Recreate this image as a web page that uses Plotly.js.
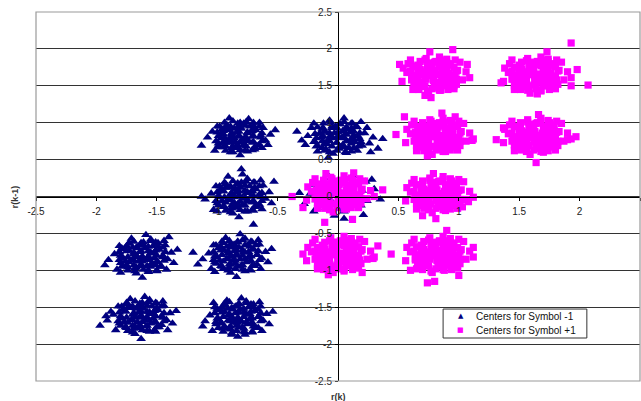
<!DOCTYPE html>
<html>
<head>
<meta charset="utf-8">
<script src="https://cdn.plot.ly/plotly-3.0.1.min.js"></script>
<style>html,body{margin:0;padding:0;background:#fff;}#chart{width:641px;height:401px;}</style>
</head>
<body>
<div id="chart"></div>
<script>
const seriesNames = ['Centers for Symbol -1', 'Centers for Symbol +1'];
const xAxisTitle = 'r(k)';
const yAxisTitle = 'r(k-1)';
const tickValues = [-2.5, -2, -1.5, -1, -0.5, 0, 0.5, 1, 1.5, 2, 2.5];
const tickLabels = ['-2.5', '-2', '-1.5', '-1', '-0.5', '0', '0.5', '1', '1.5', '2', '2.5'];

// [r(k), r(k-1)] points, symbol -1
const symbolMinus1Points = [
// cluster near (-0.8, 0.8)
[-0.82,0.81],[-0.75,0.86],[-0.9,0.78],[-0.86,0.92],[-0.7,0.74],[-0.95,0.85],[-0.78,0.7],[-0.64,0.83],[-0.99,0.72],[-0.88,0.66],[-0.73,0.95],[-0.81,1.0],[-0.68,0.9],[-1.04,0.88],[-0.6,0.76],[-0.92,0.97],[-0.77,0.62],[-0.85,0.74],[-0.71,0.81],[-0.97,0.79],[-0.84,0.87],[-0.79,0.77],[-0.66,0.69],[-0.9,0.9],[-1.08,0.8],[-0.56,0.84],[-0.74,1.05],[-0.87,0.6],[-1.0,0.95],[-0.62,0.93],[-0.93,0.68],[-0.8,0.92],[-0.69,0.64],[-0.76,0.8],[-0.88,0.84],[-0.83,0.7],[-0.72,0.88],[-0.95,0.74],[-1.13,0.69],[-0.58,0.7],[-0.81,0.56],[-0.9,1.06],[-0.65,1.0],[-1.02,0.62],[-0.78,0.99],[-0.86,0.79],[-0.74,0.75],[-0.96,0.91],[-0.7,0.96],[-0.83,0.94],[-0.52,0.9],[-0.99,0.67],[-0.63,0.66],[-0.89,0.73],[-0.76,0.68],
[-0.93,0.62],[-0.89,0.60],[-0.81,0.63],[-0.75,0.61],[-0.71,0.63],[-0.99,0.69],[-0.95,0.67],[-0.87,0.68],[-0.83,0.66],[-0.77,0.69],[-0.69,0.67],[-0.65,0.70],[-1.01,0.75],[-0.93,0.73],[-0.89,0.76],[-0.81,0.74],[-0.75,0.76],[-0.71,0.73],[-0.63,0.75],[-0.99,0.82],[-0.94,0.80],[-0.87,0.81],[-0.82,0.83],[-0.77,0.80],[-0.70,0.82],[-0.64,0.80],[-1.0,0.87],[-0.95,0.89],[-0.88,0.86],[-0.82,0.88],[-0.75,0.87],[-0.71,0.89],[-0.63,0.86],[-0.98,0.95],[-0.93,0.93],[-0.89,0.95],[-0.81,0.94],[-0.77,0.96],[-0.69,0.93],[-0.65,0.95],[-0.94,1.0],[-0.87,1.02],[-0.83,0.99],[-0.76,1.01],[-0.70,1.0],
// cluster near (0, 0.8)
[0.0,0.8],[0.07,0.84],[-0.08,0.77],[0.12,0.9],[-0.15,0.86],[0.04,0.7],[-0.05,0.93],[0.18,0.78],[-0.2,0.74],[0.09,0.66],[-0.1,0.64],[0.02,0.98],[0.15,0.95],[-0.25,0.82],[0.22,0.86],[-0.03,0.86],[0.1,0.76],[-0.12,0.92],[0.06,0.6],[-0.18,0.68],[0.26,0.72],[-0.07,1.03],[0.13,0.83],[-0.01,0.73],[0.08,0.91],[-0.14,0.8],[0.2,0.69],[-0.22,0.93],[0.03,0.79],[-0.09,0.71],[0.16,0.62],[0.29,0.8],[-0.3,0.76],[0.05,1.06],[-0.04,0.58],[0.11,0.99],[-0.17,0.61],[0.24,0.93],[-0.06,0.83],[0.14,0.74],[-0.11,0.88],[0.01,0.67],[-0.27,0.7],[0.33,0.65],[0.19,1.01],[-0.2,0.99],[0.07,0.75],[-0.02,0.95],[0.1,0.87],[-0.13,0.75],[0.04,0.89],[-0.34,0.88],[0.27,0.6],[0.37,0.78],[-0.08,0.53],
[0.11,0.61],[0.07,0.59],[-0.01,0.62],[-0.07,0.6],[-0.11,0.62],[0.17,0.68],[0.13,0.66],[0.05,0.67],[0.01,0.65],[-0.05,0.68],[-0.13,0.66],[-0.17,0.69],[0.19,0.74],[0.11,0.72],[0.07,0.75],[-0.01,0.73],[-0.07,0.75],[-0.11,0.72],[-0.19,0.74],[0.17,0.81],[0.12,0.79],[0.05,0.8],[0,0.82],[-0.05,0.79],[-0.12,0.81],[-0.18,0.79],[0.18,0.86],[0.13,0.88],[0.06,0.85],[0,0.87],[-0.07,0.86],[-0.11,0.88],[-0.19,0.85],[0.16,0.94],[0.11,0.92],[0.07,0.94],[-0.01,0.93],[-0.05,0.95],[-0.13,0.92],[-0.17,0.94],[0.12,0.99],[0.05,1.01],[0.01,0.98],[-0.06,1.0],[-0.12,0.99],
// cluster near (-0.8, 0)
[-0.82,0.0],[-0.76,0.05],[-0.9,-0.04],[-0.85,0.1],[-0.7,-0.06],[-0.95,0.07],[-0.79,-0.12],[-0.65,0.03],[-1.0,-0.09],[-0.88,-0.16],[-0.73,0.14],[-0.8,0.19],[-0.68,0.1],[-1.05,0.04],[-0.6,-0.03],[-0.93,0.17],[-0.77,-0.2],[-0.86,-0.08],[-0.72,0.0],[-0.98,-0.01],[-0.84,0.06],[-0.79,-0.03],[-0.67,-0.13],[-0.9,0.12],[-1.1,-0.04],[-0.57,0.06],[-0.75,0.24],[-0.87,-0.23],[-1.01,0.14],[-0.62,0.15],[-0.94,-0.14],[-0.81,0.12],[-0.7,-0.19],[-0.77,0.08],[-0.89,0.03],[-0.83,-0.1],[-0.71,0.07],[-0.96,-0.06],[-1.13,0.0],[-0.55,-0.09],[-0.82,-0.28],[-0.91,0.27],[-0.64,0.22],[-1.03,-0.18],[-0.79,0.3],[-0.86,-0.01],[-0.74,-0.07],[-0.97,0.1],[-0.69,0.19],[-0.84,0.16],[-0.53,0.2],[-1.0,-0.2],[-0.63,-0.17],[-0.88,-0.12],[-0.8,0.37],[-0.7,-0.38],
[-0.93,-0.19],[-0.89,-0.21],[-0.81,-0.18],[-0.75,-0.2],[-0.71,-0.18],[-0.99,-0.12],[-0.95,-0.14],[-0.87,-0.13],[-0.83,-0.15],[-0.77,-0.12],[-0.69,-0.14],[-0.65,-0.11],[-1.01,-0.06],[-0.93,-0.08],[-0.89,-0.05],[-0.81,-0.07],[-0.75,-0.05],[-0.71,-0.08],[-0.63,-0.06],[-0.99,0.01],[-0.94,-0.01],[-0.87,0],[-0.82,0.02],[-0.77,-0.01],[-0.7,0.01],[-0.64,-0.01],[-1.0,0.06],[-0.95,0.08],[-0.88,0.05],[-0.82,0.07],[-0.75,0.06],[-0.71,0.08],[-0.63,0.05],[-0.98,0.14],[-0.93,0.12],[-0.89,0.14],[-0.81,0.13],[-0.77,0.15],[-0.69,0.12],[-0.65,0.14],[-0.94,0.19],[-0.87,0.21],[-0.83,0.18],[-0.76,0.2],[-0.7,0.19],
// cluster near (0, 0), mostly hidden behind the +1 cluster
[0.0,0.02],[0.06,0.06],[-0.07,-0.03],[0.1,0.1],[-0.13,0.07],[0.04,-0.08],[-0.04,0.15],[0.16,0.0],[-0.18,-0.05],[0.08,-0.14],[-0.1,-0.15],[0.02,0.2],[0.14,0.17],[-0.23,0.04],[0.2,0.08],[-0.02,0.08],[0.11,-0.04],[-0.12,0.13],[0.05,-0.2],[-0.16,-0.12],[0.24,-0.06],[-0.06,0.25],[0.13,0.04],[0.0,-0.06],[0.08,0.13],[-0.15,0.0],[0.19,-0.12],[-0.21,0.16],[0.3,0.1],[-0.28,-0.1],[0.23,0.2],[0.35,-0.04],[-0.09,0.3],[0.21,-0.25],[-0.32,0.05],[0.12,0.28],[-0.2,-0.2],[0.28,0.23],[0.05,-0.3],[-0.03,-0.26],
// cluster near (-1.6, -0.8)
[-1.62,-0.81],[-1.55,-0.77],[-1.7,-0.85],[-1.66,-0.7],[-1.5,-0.88],[-1.75,-0.74],[-1.58,-0.94],[-1.45,-0.8],[-1.8,-0.9],[-1.68,-0.97],[-1.53,-0.67],[-1.61,-0.62],[-1.48,-0.72],[-1.85,-0.78],[-1.41,-0.85],[-1.73,-0.64],[-1.57,-1.0],[-1.65,-0.88],[-1.52,-0.83],[-1.78,-0.83],[-1.64,-0.75],[-1.59,-0.86],[-1.47,-0.95],[-1.7,-0.69],[-1.9,-0.86],[-1.38,-0.76],[-1.55,-0.58],[-1.67,-1.04],[-1.81,-0.67],[-1.43,-0.66],[-1.74,-0.96],[-1.6,-0.7],[-1.5,-1.01],[-1.57,-0.74],[-1.69,-0.78],[-1.63,-0.92],[-1.52,-0.76],[-1.76,-0.88],[-1.93,-0.93],[-1.36,-0.9],[-1.62,-1.1],[-1.71,-0.57],[-1.44,-0.6],[-1.83,-0.99],[-1.59,-0.52],[-1.66,-0.82],[-1.54,-0.9],[-1.77,-0.71],[-1.49,-0.63],[-1.64,-0.66],[-1.33,-0.72],[-1.8,-1.03],[-1.42,-0.99],[-1.69,-0.93],[-1.4,-0.55],
[-1.51,-0.62],[-1.55,-0.6],[-1.63,-0.63],[-1.69,-0.61],[-1.73,-0.63],[-1.45,-0.69],[-1.49,-0.67],[-1.57,-0.68],[-1.61,-0.66],[-1.67,-0.69],[-1.75,-0.67],[-1.79,-0.7],[-1.43,-0.75],[-1.51,-0.73],[-1.55,-0.76],[-1.63,-0.74],[-1.69,-0.76],[-1.73,-0.73],[-1.81,-0.75],[-1.45,-0.82],[-1.5,-0.8],[-1.57,-0.81],[-1.62,-0.83],[-1.67,-0.8],[-1.74,-0.82],[-1.8,-0.8],[-1.44,-0.87],[-1.49,-0.89],[-1.56,-0.86],[-1.62,-0.88],[-1.69,-0.87],[-1.73,-0.89],[-1.81,-0.86],[-1.46,-0.95],[-1.51,-0.93],[-1.55,-0.95],[-1.63,-0.94],[-1.67,-0.96],[-1.75,-0.93],[-1.79,-0.95],[-1.5,-1.0],[-1.57,-1.02],[-1.61,-0.99],[-1.68,-1.01],[-1.74,-1.0],
// cluster near (-1.6, -1.6)
[-1.63,-1.63],[-1.56,-1.59],[-1.71,-1.67],[-1.67,-1.52],[-1.51,-1.7],[-1.76,-1.56],[-1.59,-1.76],[-1.46,-1.62],[-1.81,-1.72],[-1.69,-1.79],[-1.54,-1.49],[-1.62,-1.44],[-1.49,-1.54],[-1.86,-1.6],[-1.42,-1.67],[-1.74,-1.46],[-1.58,-1.82],[-1.66,-1.7],[-1.53,-1.65],[-1.79,-1.65],[-1.65,-1.57],[-1.6,-1.68],[-1.48,-1.77],[-1.71,-1.51],[-1.91,-1.68],[-1.39,-1.58],[-1.56,-1.4],[-1.68,-1.86],[-1.82,-1.49],[-1.44,-1.48],[-1.75,-1.78],[-1.61,-1.52],[-1.51,-1.83],[-1.58,-1.56],[-1.7,-1.6],[-1.64,-1.74],[-1.53,-1.58],[-1.77,-1.7],[-1.97,-1.75],[-1.37,-1.72],[-1.63,-1.93],[-1.72,-1.39],[-1.45,-1.42],[-1.84,-1.81],[-1.6,-1.36],[-1.67,-1.64],[-1.55,-1.72],[-1.78,-1.53],[-1.5,-1.45],[-1.65,-1.48],[-1.34,-1.55],[-1.88,-1.56],[-1.41,-1.81],[-1.7,-1.75],[-1.92,-1.62],
[-1.74,-1.82],[-1.7,-1.84],[-1.62,-1.81],[-1.56,-1.83],[-1.52,-1.81],[-1.8,-1.75],[-1.76,-1.77],[-1.68,-1.76],[-1.64,-1.78],[-1.58,-1.75],[-1.5,-1.77],[-1.46,-1.74],[-1.82,-1.69],[-1.74,-1.71],[-1.7,-1.68],[-1.62,-1.7],[-1.56,-1.68],[-1.52,-1.71],[-1.44,-1.69],[-1.8,-1.62],[-1.75,-1.64],[-1.68,-1.63],[-1.63,-1.61],[-1.58,-1.64],[-1.51,-1.62],[-1.45,-1.64],[-1.81,-1.57],[-1.76,-1.55],[-1.69,-1.58],[-1.63,-1.56],[-1.56,-1.57],[-1.52,-1.55],[-1.44,-1.58],[-1.79,-1.49],[-1.74,-1.51],[-1.7,-1.49],[-1.62,-1.5],[-1.58,-1.48],[-1.5,-1.51],[-1.46,-1.49],[-1.75,-1.44],[-1.68,-1.42],[-1.64,-1.45],[-1.57,-1.43],[-1.51,-1.44],
// cluster near (-0.8, -0.8)
[-0.84,-0.8],[-0.77,-0.76],[-0.92,-0.84],[-0.88,-0.69],[-0.72,-0.87],[-0.97,-0.73],[-0.8,-0.93],[-0.67,-0.79],[-1.02,-0.89],[-0.9,-0.96],[-0.75,-0.66],[-0.83,-0.61],[-0.7,-0.71],[-1.07,-0.77],[-0.63,-0.84],[-0.95,-0.63],[-0.79,-0.99],[-0.87,-0.87],[-0.74,-0.82],[-1.0,-0.82],[-0.86,-0.74],[-0.81,-0.85],[-0.69,-0.94],[-0.92,-0.68],[-1.12,-0.85],[-0.6,-0.75],[-0.77,-0.57],[-0.89,-1.03],[-1.03,-0.66],[-0.65,-0.65],[-0.96,-0.95],[-0.82,-0.69],[-0.72,-1.0],[-0.79,-0.73],[-0.91,-0.77],[-0.85,-0.91],[-0.74,-0.75],[-0.98,-0.87],[-1.16,-0.92],[-0.58,-0.89],[-0.84,-1.09],[-0.93,-0.56],[-0.66,-0.59],[-1.05,-0.98],[-0.81,-0.51],[-0.88,-0.81],[-0.76,-0.89],[-0.99,-0.7],[-0.71,-0.62],[-0.86,-0.65],[-0.55,-0.71],[-1.02,-1.02],[-0.64,-0.98],[-0.9,-0.92],[-1.2,-0.76],
[-0.73,-0.99],[-0.77,-1.01],[-0.85,-0.98],[-0.91,-1.0],[-0.95,-0.98],[-0.67,-0.92],[-0.71,-0.94],[-0.79,-0.93],[-0.83,-0.95],[-0.89,-0.92],[-0.97,-0.94],[-1.01,-0.91],[-0.65,-0.86],[-0.73,-0.88],[-0.77,-0.85],[-0.85,-0.87],[-0.91,-0.85],[-0.95,-0.88],[-1.03,-0.86],[-0.67,-0.79],[-0.72,-0.81],[-0.79,-0.8],[-0.84,-0.78],[-0.89,-0.81],[-0.96,-0.79],[-1.02,-0.81],[-0.66,-0.74],[-0.71,-0.72],[-0.78,-0.75],[-0.84,-0.73],[-0.91,-0.74],[-0.95,-0.72],[-1.03,-0.75],[-0.68,-0.66],[-0.73,-0.68],[-0.77,-0.66],[-0.85,-0.67],[-0.89,-0.65],[-0.97,-0.68],[-1.01,-0.66],[-0.72,-0.61],[-0.79,-0.59],[-0.83,-0.62],[-0.9,-0.6],[-0.96,-0.61],
// cluster near (-0.8, -1.6)
[-0.83,-1.64],[-0.76,-1.6],[-0.91,-1.68],[-0.87,-1.53],[-0.71,-1.71],[-0.96,-1.57],[-0.79,-1.77],[-0.66,-1.63],[-1.01,-1.73],[-0.89,-1.8],[-0.74,-1.5],[-0.82,-1.45],[-0.69,-1.55],[-1.06,-1.61],[-0.62,-1.68],[-0.94,-1.47],[-0.78,-1.83],[-0.86,-1.71],[-0.73,-1.66],[-0.99,-1.66],[-0.85,-1.58],[-0.8,-1.69],[-0.68,-1.78],[-0.91,-1.52],[-1.1,-1.69],[-0.59,-1.59],[-0.76,-1.42],[-0.88,-1.87],[-1.02,-1.5],[-0.64,-1.49],[-0.95,-1.79],[-0.81,-1.53],[-0.71,-1.84],[-0.78,-1.57],[-0.9,-1.61],[-0.84,-1.75],[-0.73,-1.59],[-0.97,-1.71],[-1.12,-1.76],[-0.57,-1.73],[-0.83,-1.9],[-0.92,-1.41],[-0.65,-1.43],[-1.04,-1.82],[-0.8,-1.38],[-0.87,-1.65],[-0.75,-1.73],[-0.98,-1.54],[-0.7,-1.46],[-0.85,-1.49],[-0.54,-1.56],[-1.03,-1.44],[-0.63,-1.82],[-0.89,-1.76],[-0.77,-1.87],
[-0.94,-1.45],[-0.9,-1.43],[-0.82,-1.46],[-0.76,-1.44],[-0.72,-1.46],[-1.0,-1.52],[-0.96,-1.5],[-0.88,-1.51],[-0.84,-1.49],[-0.78,-1.52],[-0.7,-1.5],[-0.66,-1.53],[-1.02,-1.58],[-0.94,-1.56],[-0.9,-1.59],[-0.82,-1.57],[-0.76,-1.59],[-0.72,-1.56],[-0.64,-1.58],[-1.0,-1.65],[-0.95,-1.63],[-0.88,-1.64],[-0.83,-1.66],[-0.78,-1.63],[-0.71,-1.65],[-0.65,-1.63],[-1.01,-1.7],[-0.96,-1.72],[-0.89,-1.69],[-0.83,-1.71],[-0.76,-1.7],[-0.72,-1.72],[-0.64,-1.69],[-0.99,-1.78],[-0.94,-1.76],[-0.9,-1.78],[-0.82,-1.77],[-0.78,-1.79],[-0.7,-1.76],[-0.66,-1.78],[-0.95,-1.83],[-0.88,-1.85],[-0.84,-1.82],[-0.77,-1.84],[-0.71,-1.83]
];

// [r(k), r(k-1)] points, symbol +1
const symbolPlus1Points = [
// cluster near (0, 0)
[0.0,0.03],[0.07,0.07],[-0.07,0.0],[0.11,0.12],[-0.13,0.09],[0.04,-0.06],[-0.04,0.17],[0.16,0.02],[-0.18,-0.02],[0.08,-0.11],[-0.1,-0.12],[0.02,0.22],[0.14,0.19],[-0.22,0.07],[0.2,0.1],[-0.02,0.1],[0.11,-0.02],[-0.12,0.15],[0.05,-0.17],[-0.16,-0.09],[0.24,-0.03],[-0.06,0.26],[0.13,0.06],[0.0,-0.04],[0.08,0.15],[-0.15,0.03],[0.19,-0.09],[-0.21,0.19],[0.03,0.05],[-0.09,-0.06],[0.17,-0.15],[0.27,0.08],[-0.26,-0.05],[0.05,0.28],[-0.04,-0.21],[0.11,0.25],[-0.17,-0.16],[0.22,0.21],[-0.06,0.06],[0.14,-0.05],[-0.11,0.1],[0.01,-0.13],[-0.25,0.13],[0.3,0.0],[0.18,0.24],[-0.19,0.24],[0.07,0.0],[-0.02,0.2],[0.1,0.11],[-0.13,-0.04],[-0.38,0.0],[0.37,0.09],[-0.1,0.31],[0.13,0.32],[0.12,-0.31],[-0.11,-0.35],[-0.29,-0.15],
[-0.11,-0.16],[-0.07,-0.18],[0.01,-0.15],[0.07,-0.17],[0.11,-0.15],[-0.17,-0.09],[-0.13,-0.11],[-0.05,-0.1],[-0.01,-0.12],[0.05,-0.09],[0.13,-0.11],[0.17,-0.08],[-0.19,-0.03],[-0.11,-0.05],[-0.07,-0.02],[0.01,-0.04],[0.07,-0.02],[0.11,-0.05],[0.19,-0.03],[-0.17,0.04],[-0.12,0.02],[-0.05,0.03],[0,0.05],[0.05,0.02],[0.12,0.04],[0.18,0.02],[-0.18,0.09],[-0.13,0.11],[-0.06,0.08],[0,0.1],[0.07,0.09],[0.11,0.11],[0.19,0.08],[-0.16,0.17],[-0.11,0.15],[-0.07,0.17],[0.01,0.16],[0.05,0.18],[0.13,0.15],[0.17,0.17],[-0.12,0.22],[-0.05,0.24],[-0.01,0.21],[0.06,0.23],[0.12,0.22],
// cluster near (0, -0.8)
[0.0,-0.8],[0.07,-0.76],[-0.07,-0.84],[0.11,-0.69],[-0.13,-0.73],[0.04,-0.88],[-0.04,-0.65],[0.16,-0.8],[-0.18,-0.84],[0.08,-0.93],[-0.1,-0.94],[0.02,-0.6],[0.14,-0.63],[-0.22,-0.75],[0.2,-0.72],[-0.02,-0.72],[0.11,-0.84],[-0.12,-0.67],[0.05,-0.99],[-0.16,-0.91],[0.24,-0.85],[-0.06,-0.56],[0.13,-0.76],[0.0,-0.86],[0.08,-0.67],[-0.15,-0.79],[0.19,-0.91],[-0.21,-0.63],[0.03,-0.77],[-0.09,-0.88],[0.17,-0.97],[0.27,-0.74],[-0.26,-0.87],[0.05,-0.54],[-0.04,-1.03],[0.11,-0.57],[-0.17,-0.98],[0.22,-0.61],[-0.06,-0.76],[0.14,-0.87],[-0.11,-0.72],[0.01,-0.95],[-0.25,-0.69],[0.3,-0.82],[0.18,-0.58],[-0.19,-0.58],[0.07,-0.82],[-0.02,-0.62],[0.1,-0.71],[-0.13,-0.86],[0.44,-0.78],[0.29,-0.84],[-0.29,-0.78],[0.2,-1.03],[-0.08,-1.06],[0.33,-0.67],
[0.11,-0.61],[0.07,-0.59],[-0.01,-0.62],[-0.07,-0.6],[-0.11,-0.62],[0.17,-0.68],[0.13,-0.66],[0.05,-0.67],[0.01,-0.65],[-0.05,-0.68],[-0.13,-0.66],[-0.17,-0.69],[0.19,-0.74],[0.11,-0.72],[0.07,-0.75],[-0.01,-0.73],[-0.07,-0.75],[-0.11,-0.72],[-0.19,-0.74],[0.17,-0.81],[0.12,-0.79],[0.05,-0.8],[0,-0.82],[-0.05,-0.79],[-0.12,-0.81],[-0.18,-0.79],[0.18,-0.86],[0.13,-0.88],[0.06,-0.85],[0,-0.87],[-0.07,-0.86],[-0.11,-0.88],[-0.19,-0.85],[0.16,-0.94],[0.11,-0.92],[0.07,-0.94],[-0.01,-0.93],[-0.05,-0.95],[-0.13,-0.92],[-0.17,-0.94],[0.12,-0.99],[0.05,-1.01],[0.01,-0.98],[-0.06,-1.0],[-0.12,-0.99],
// cluster near (0.8, 0)
[0.82,0.02],[0.89,0.06],[0.75,-0.01],[0.93,0.11],[0.69,0.08],[0.86,-0.07],[0.78,0.16],[0.98,0.01],[0.64,-0.03],[0.9,-0.12],[0.72,-0.13],[0.84,0.21],[0.96,0.18],[0.6,0.06],[1.02,0.09],[0.8,0.09],[0.93,-0.03],[0.7,0.14],[0.87,-0.18],[0.66,-0.1],[1.06,-0.04],[0.76,0.25],[0.95,0.05],[0.82,-0.05],[0.9,0.14],[0.67,0.02],[1.01,-0.1],[0.61,0.18],[0.85,0.04],[0.73,-0.07],[0.99,-0.16],[1.09,0.07],[0.56,-0.06],[0.87,0.27],[0.78,-0.22],[0.93,0.24],[0.65,-0.17],[1.04,0.2],[0.76,0.05],[0.96,-0.06],[0.71,0.09],[0.83,-0.14],[0.57,0.12],[1.12,-0.01],[1.0,0.23],[0.63,0.23],[0.89,-0.01],[0.8,0.19],[0.92,0.1],[0.69,-0.05],[1.08,-0.07],[1.03,-0.14],[0.81,-0.3],[0.7,-0.26],[0.79,0.31],
[0.93,-0.17],[0.89,-0.19],[0.81,-0.16],[0.75,-0.18],[0.71,-0.16],[0.99,-0.1],[0.95,-0.12],[0.87,-0.11],[0.83,-0.13],[0.77,-0.1],[0.69,-0.12],[0.65,-0.09],[1.01,-0.04],[0.93,-0.06],[0.89,-0.03],[0.81,-0.05],[0.75,-0.03],[0.71,-0.06],[0.63,-0.04],[0.99,0.03],[0.94,0.01],[0.87,0.02],[0.82,0.04],[0.77,0.01],[0.7,0.03],[0.64,0.01],[1.0,0.08],[0.95,0.1],[0.88,0.07],[0.82,0.09],[0.75,0.08],[0.71,0.1],[0.63,0.07],[0.98,0.16],[0.93,0.14],[0.89,0.16],[0.81,0.15],[0.77,0.17],[0.69,0.14],[0.65,0.16],[0.94,0.21],[0.87,0.23],[0.83,0.2],[0.76,0.22],[0.7,0.21],
// cluster near (0.8, -0.8)
[0.82,-0.8],[0.89,-0.76],[0.75,-0.84],[0.93,-0.69],[0.69,-0.73],[0.86,-0.88],[0.78,-0.65],[0.98,-0.8],[0.64,-0.84],[0.9,-0.93],[0.72,-0.94],[0.84,-0.6],[0.96,-0.63],[0.6,-0.75],[1.02,-0.72],[0.8,-0.72],[0.93,-0.84],[0.7,-0.67],[0.87,-0.99],[0.66,-0.91],[1.06,-0.85],[0.76,-0.56],[0.95,-0.76],[0.82,-0.86],[0.9,-0.67],[0.67,-0.79],[1.01,-0.91],[0.61,-0.63],[0.85,-0.77],[0.73,-0.88],[0.99,-0.97],[1.09,-0.74],[0.56,-0.87],[0.87,-0.54],[0.78,-1.03],[0.93,-0.57],[0.65,-0.98],[1.04,-0.61],[0.76,-0.76],[0.96,-0.87],[0.71,-0.72],[0.83,-0.95],[0.57,-0.69],[1.12,-0.82],[1.0,-0.58],[0.63,-0.58],[0.89,-0.82],[0.8,-0.62],[0.92,-0.71],[0.69,-0.86],[0.74,-1.17],[0.8,-1.15],[1.0,-1.07],[1.12,-0.69],[0.9,-0.46],[0.6,-1.0],
[0.71,-0.61],[0.75,-0.59],[0.83,-0.62],[0.89,-0.6],[0.93,-0.62],[0.65,-0.68],[0.69,-0.66],[0.77,-0.67],[0.81,-0.65],[0.87,-0.68],[0.95,-0.66],[0.99,-0.69],[0.63,-0.74],[0.71,-0.72],[0.75,-0.75],[0.83,-0.73],[0.89,-0.75],[0.93,-0.72],[1.01,-0.74],[0.65,-0.81],[0.7,-0.79],[0.77,-0.8],[0.82,-0.82],[0.87,-0.79],[0.94,-0.81],[1.0,-0.79],[0.64,-0.86],[0.69,-0.88],[0.76,-0.85],[0.82,-0.87],[0.89,-0.86],[0.93,-0.88],[1.01,-0.85],[0.66,-0.94],[0.71,-0.92],[0.75,-0.94],[0.83,-0.93],[0.87,-0.95],[0.95,-0.92],[0.99,-0.94],[0.7,-0.99],[0.77,-1.01],[0.81,-0.98],[0.88,-1.0],[0.94,-0.99],
// cluster near (0.8, 0.8)
[0.82,0.81],[0.89,0.85],[0.75,0.78],[0.93,0.9],[0.69,0.87],[0.86,0.72],[0.78,0.95],[0.98,0.8],[0.64,0.76],[0.9,0.67],[0.72,0.66],[0.84,1.0],[0.96,0.97],[0.6,0.85],[1.02,0.88],[0.8,0.88],[0.93,0.76],[0.7,0.93],[0.87,0.61],[0.66,0.69],[1.06,0.75],[0.76,1.04],[0.95,0.84],[0.82,0.74],[0.9,0.93],[0.67,0.81],[1.01,0.69],[0.61,0.97],[0.85,0.83],[0.73,0.72],[0.99,0.63],[1.09,0.86],[0.56,0.73],[0.87,1.06],[0.78,0.57],[0.93,1.03],[0.65,0.62],[1.04,0.99],[0.76,0.84],[0.96,0.73],[0.71,0.88],[0.83,0.65],[0.57,0.91],[1.12,0.78],[1.0,1.02],[0.63,1.02],[0.89,0.78],[0.8,0.98],[0.92,0.89],[0.69,0.74],[0.55,1.08],[0.86,1.13],[0.97,1.08],[1.11,0.76],[0.48,0.84],[0.74,0.55],
[0.71,0.62],[0.75,0.6],[0.83,0.63],[0.89,0.61],[0.93,0.63],[0.65,0.69],[0.69,0.67],[0.77,0.68],[0.81,0.66],[0.87,0.69],[0.95,0.67],[0.99,0.7],[0.63,0.75],[0.71,0.73],[0.75,0.76],[0.83,0.74],[0.89,0.76],[0.93,0.73],[1.01,0.75],[0.65,0.82],[0.7,0.8],[0.77,0.81],[0.82,0.83],[0.87,0.8],[0.94,0.82],[1.0,0.8],[0.64,0.87],[0.69,0.89],[0.76,0.86],[0.82,0.88],[0.89,0.87],[0.93,0.89],[1.01,0.86],[0.66,0.95],[0.71,0.93],[0.75,0.95],[0.83,0.94],[0.87,0.96],[0.95,0.93],[0.99,0.95],[0.7,1.0],[0.77,1.02],[0.81,0.99],[0.88,1.01],[0.94,1.0],
// cluster near (1.6, 0.8)
[1.63,0.81],[1.7,0.85],[1.56,0.78],[1.74,0.9],[1.5,0.87],[1.67,0.72],[1.59,0.95],[1.79,0.8],[1.45,0.76],[1.71,0.67],[1.53,0.66],[1.65,1.0],[1.77,0.97],[1.41,0.85],[1.83,0.88],[1.61,0.88],[1.74,0.76],[1.51,0.93],[1.68,0.61],[1.47,0.69],[1.87,0.75],[1.57,1.04],[1.76,0.84],[1.63,0.74],[1.71,0.93],[1.48,0.81],[1.82,0.69],[1.42,0.97],[1.66,0.83],[1.54,0.72],[1.8,0.63],[1.9,0.86],[1.37,0.73],[1.68,1.06],[1.59,0.57],[1.74,1.03],[1.46,0.62],[1.85,0.99],[1.57,0.84],[1.77,0.73],[1.52,0.88],[1.64,0.65],[1.38,0.91],[1.93,0.78],[1.81,1.02],[1.44,1.02],[1.7,0.78],[1.61,0.98],[1.73,0.89],[1.5,0.74],[1.37,0.93],[1.97,0.81],[1.31,0.77],[1.64,0.46],[1.9,0.77],[1.66,1.11],
[1.74,0.62],[1.7,0.6],[1.62,0.63],[1.56,0.61],[1.52,0.63],[1.8,0.69],[1.76,0.67],[1.68,0.68],[1.64,0.66],[1.58,0.69],[1.5,0.67],[1.46,0.7],[1.82,0.75],[1.74,0.73],[1.7,0.76],[1.62,0.74],[1.56,0.76],[1.52,0.73],[1.44,0.75],[1.8,0.82],[1.75,0.8],[1.68,0.81],[1.63,0.83],[1.58,0.8],[1.51,0.82],[1.45,0.8],[1.81,0.87],[1.76,0.89],[1.69,0.86],[1.63,0.88],[1.56,0.87],[1.52,0.89],[1.44,0.86],[1.79,0.95],[1.74,0.93],[1.7,0.95],[1.62,0.94],[1.58,0.96],[1.5,0.93],[1.46,0.95],[1.75,1.0],[1.68,1.02],[1.64,0.99],[1.57,1.01],[1.51,1.0],
// cluster near (0.8, 1.6)
[0.79,1.64],[0.86,1.68],[0.72,1.61],[0.9,1.73],[0.66,1.7],[0.83,1.55],[0.75,1.78],[0.95,1.63],[0.61,1.59],[0.87,1.5],[0.69,1.49],[0.81,1.83],[0.93,1.8],[0.57,1.68],[0.99,1.71],[0.77,1.71],[0.9,1.59],[0.67,1.76],[0.84,1.44],[0.63,1.52],[1.03,1.58],[0.73,1.87],[0.92,1.67],[0.79,1.57],[0.87,1.76],[0.64,1.64],[0.98,1.52],[0.58,1.8],[0.82,1.66],[0.7,1.55],[0.96,1.46],[1.06,1.69],[0.53,1.56],[0.84,1.89],[0.75,1.4],[0.9,1.86],[0.62,1.45],[1.01,1.82],[0.73,1.67],[0.93,1.56],[0.68,1.71],[0.8,1.48],[0.54,1.74],[1.09,1.61],[0.97,1.85],[0.6,1.85],[0.86,1.61],[0.77,1.81],[0.89,1.72],[0.66,1.57],[0.51,1.79],[0.76,1.96],[0.95,1.99],[0.77,1.34],[1.07,1.79],[0.72,1.37],
[0.68,1.83],[0.72,1.85],[0.8,1.82],[0.86,1.84],[0.9,1.82],[0.62,1.76],[0.66,1.78],[0.74,1.77],[0.78,1.79],[0.84,1.76],[0.92,1.78],[0.96,1.75],[0.6,1.7],[0.68,1.72],[0.72,1.69],[0.8,1.71],[0.86,1.69],[0.9,1.72],[0.98,1.7],[0.62,1.63],[0.67,1.65],[0.74,1.64],[0.79,1.62],[0.84,1.65],[0.91,1.63],[0.97,1.65],[0.61,1.58],[0.66,1.56],[0.73,1.59],[0.79,1.57],[0.86,1.58],[0.9,1.56],[0.98,1.59],[0.63,1.5],[0.68,1.52],[0.72,1.5],[0.8,1.51],[0.84,1.49],[0.92,1.52],[0.96,1.5],[0.67,1.45],[0.74,1.43],[0.78,1.46],[0.85,1.44],[0.91,1.45],
// cluster near (1.6, 1.6)
[1.63,1.64],[1.7,1.68],[1.56,1.61],[1.74,1.73],[1.5,1.7],[1.67,1.55],[1.59,1.78],[1.79,1.63],[1.45,1.59],[1.71,1.5],[1.53,1.49],[1.65,1.83],[1.77,1.8],[1.41,1.68],[1.83,1.71],[1.61,1.71],[1.74,1.59],[1.51,1.76],[1.68,1.44],[1.47,1.52],[1.87,1.58],[1.57,1.87],[1.76,1.67],[1.63,1.57],[1.71,1.76],[1.48,1.64],[1.82,1.52],[1.42,1.8],[1.66,1.66],[1.54,1.55],[1.8,1.46],[1.9,1.69],[1.37,1.56],[1.68,1.89],[1.59,1.4],[1.74,1.86],[1.46,1.45],[1.85,1.82],[1.57,1.67],[1.77,1.56],[1.52,1.71],[1.64,1.48],[1.38,1.74],[1.93,1.61],[1.81,1.85],[1.44,1.85],[1.7,1.61],[1.61,1.81],[1.73,1.72],[1.5,1.57],[1.35,1.54],[1.98,1.72],[2.07,1.51],[1.93,1.5],[1.73,1.96],[1.65,1.39],[1.93,2.08],
[1.74,1.83],[1.7,1.85],[1.62,1.82],[1.56,1.84],[1.52,1.82],[1.8,1.76],[1.76,1.78],[1.68,1.77],[1.64,1.79],[1.58,1.76],[1.5,1.78],[1.46,1.75],[1.82,1.7],[1.74,1.72],[1.7,1.69],[1.62,1.71],[1.56,1.69],[1.52,1.72],[1.44,1.7],[1.8,1.63],[1.75,1.65],[1.68,1.64],[1.63,1.62],[1.58,1.65],[1.51,1.63],[1.45,1.65],[1.81,1.58],[1.76,1.56],[1.69,1.59],[1.63,1.57],[1.56,1.58],[1.52,1.56],[1.44,1.59],[1.79,1.5],[1.74,1.52],[1.7,1.5],[1.62,1.51],[1.58,1.49],[1.5,1.52],[1.46,1.5],[1.75,1.45],[1.68,1.43],[1.64,1.46],[1.57,1.44],[1.51,1.45]
];

const FONT = 'Liberation Sans, Arial, sans-serif';

const traces = [
  {
    type: 'scatter', mode: 'markers', name: seriesNames[0],
    x: symbolMinus1Points.map(p => p[0]), y: symbolMinus1Points.map(p => p[1]),
    marker: {symbol: 'triangle-up', size: 8.5, color: '#000080', line: {width: 0}},
    showlegend: false, hoverinfo: 'skip'
  },
  {
    type: 'scatter', mode: 'markers', name: seriesNames[1],
    x: symbolPlus1Points.map(p => p[0]), y: symbolPlus1Points.map(p => p[1]),
    marker: {symbol: 'square', size: 7.2, color: '#FF00FF', line: {width: 0}},
    showlegend: false, hoverinfo: 'skip'
  }
];

const tickFont = {family: FONT, size: 10, color: '#222'};

const layout = {
  width: 641, height: 401,
  margin: {l: 36, r: 1, t: 12, b: 20, pad: 0},
  paper_bgcolor: '#fff', plot_bgcolor: '#fff',
  showlegend: false,
  xaxis: {
    range: [-2.5, 2.5], anchor: 'free', position: 0.5, automargin: false,
    showline: true, linecolor: '#000', linewidth: 1,
    ticks: 'outside', ticklen: 3, tickwidth: 1, tickcolor: '#000',
    tickvals: tickValues, ticktext: tickLabels, tickfont: tickFont,
    ticklabelstandoff: 2,
    showgrid: false, zeroline: false
  },
  yaxis: {
    range: [-2.5, 2.5], anchor: 'free', position: 0.5, automargin: false,
    showline: true, linecolor: '#000', linewidth: 1,
    ticks: 'outside', ticklen: 3, tickwidth: 1, tickcolor: '#000',
    tickvals: tickValues, ticktext: tickLabels, tickfont: tickFont,
    ticklabelstandoff: 1,
    showgrid: true, gridcolor: '#333', gridwidth: 1, zeroline: false
  },
  shapes: [
    {type: 'rect', xref: 'paper', yref: 'paper', x0: 0, x1: 1, y0: 0, y1: 1,
     line: {color: '#9a9a9a', width: 1.2}, fillcolor: 'rgba(0,0,0,0)', layer: 'above'},
    {type: 'rect', xref: 'paper', yref: 'paper', x0: 0.674, x1: 0.912, y0: 0.1165, y1: 0.195,
     line: {color: '#333', width: 1}, fillcolor: '#fff', layer: 'above'}
  ],
  annotations: [
    {xref: 'paper', yref: 'paper', x: 0.5, y: -0.043, xanchor: 'center', yanchor: 'middle',
     text: '<b>' + xAxisTitle + '</b>', showarrow: false, font: {family: FONT, size: 9, color: '#333'}},
    {xref: 'paper', yref: 'paper', x: -0.035, y: 0.5, xanchor: 'center', yanchor: 'middle',
     text: '<b>' + yAxisTitle + '</b>', textangle: -90, showarrow: false, font: {family: FONT, size: 9, color: '#333'}},
    {xref: 'paper', yref: 'paper', x: 0.7036, y: 0.175, xanchor: 'center', yanchor: 'middle',
     text: '▲', showarrow: false, font: {family: 'DejaVu Sans', size: 7, color: '#000080'}},
    {xref: 'paper', yref: 'paper', x: 0.7036, y: 0.137, xanchor: 'center', yanchor: 'middle',
     text: '■', showarrow: false, font: {family: 'DejaVu Sans', size: 7, color: '#FF00FF'}},
    {xref: 'paper', yref: 'paper', x: 0.7247, y: 0.175, xanchor: 'left', yanchor: 'middle',
     text: seriesNames[0], showarrow: false, font: {family: FONT, size: 10, color: '#111'}},
    {xref: 'paper', yref: 'paper', x: 0.7247, y: 0.137, xanchor: 'left', yanchor: 'middle',
     text: seriesNames[1], showarrow: false, font: {family: FONT, size: 10, color: '#111'}}
  ]
};

Plotly.newPlot('chart', traces, layout, {staticPlot: true, displayModeBar: false});
</script>
</body>
</html>
